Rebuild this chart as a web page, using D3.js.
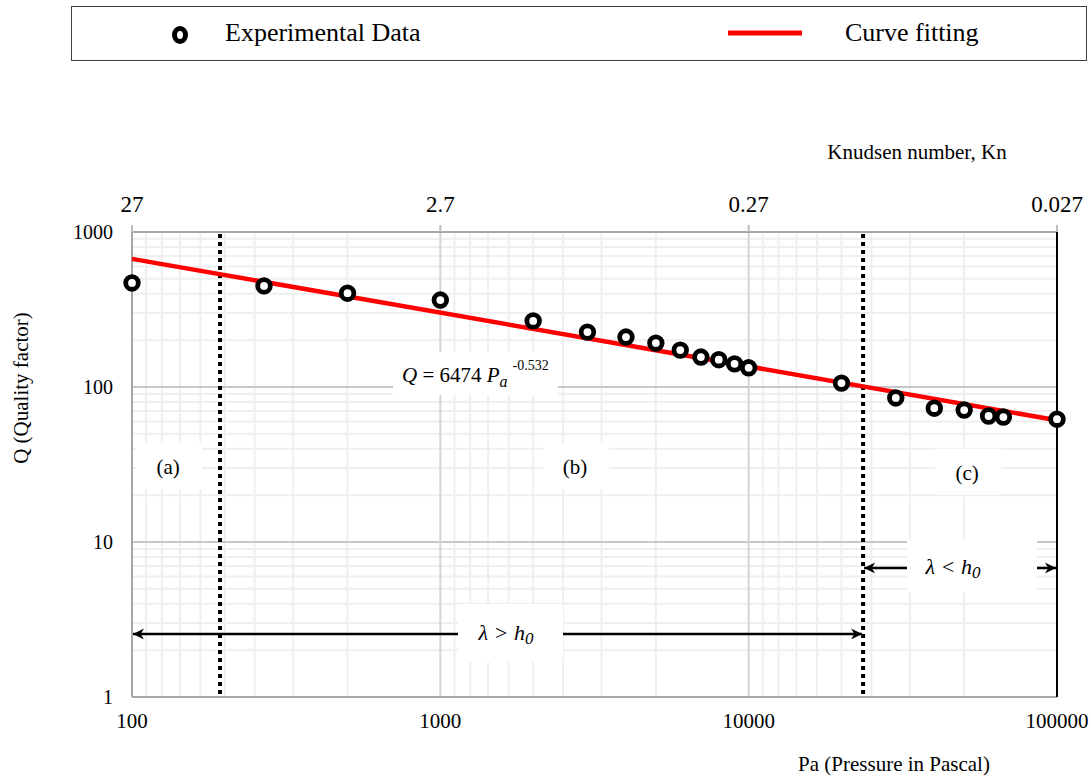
<!DOCTYPE html>
<html>
<head>
<meta charset="utf-8">
<script src="https://cdn.jsdelivr.net/npm/d3@7"></script>
<style>
  body { margin: 0; background: #fff; }
  text { font-family: "Liberation Serif", "Times New Roman", serif; fill: #000; }
</style>
</head>
<body>
<svg id="chart" width="1091" height="779"></svg>
<script>
// measured data (pressure in Pa, quality factor)
const pressure = [100, 268, 500, 1000, 2000, 3000, 4000, 5000, 6000, 7000, 8000, 9000, 10000, 20000, 30000, 40000, 50000, 60000, 67000, 100000]
const quality  = [469, 449, 403, 364, 267, 226, 210, 192, 173, 156, 150, 141, 133, 106, 85, 73, 71, 65, 64, 62]

// fitted line end points
const fitP = [100, 100000]
const fitQ = [671, 61]

const xTicks = [100, 1000, 10000, 100000]
const yTicks = [1, 10, 100, 1000]
const knTicks = [27, 2.7, 0.27, 0.027]
const knLabels = ["27", "2.7", "0.27", "0.027"]

// region boundaries (Pa) and labels
const boundaries = [193, 23500]
const regionLabels = ["(a)", "(b)", "(c)"]
const regionP = [131, 2735, 51100]
const regionQ = [30.5, 30.5, 28]

const svg = d3.select("#chart")

const x = d3.scaleLog().domain([100, 100000]).range([132, 1057])
const y = d3.scaleLog().domain([1, 1000]).range([697, 232])
const kn = d3.scaleLog().domain([27, 0.027]).range([132, 1057])

const pTop = 232, pBottom = 697, pLeft = 132, pRight = 1057

// legend
svg.append("rect").attr("x", 71.5).attr("y", 6.5).attr("width", 1015).attr("height", 54)
    .attr("fill", "#fff").attr("stroke", "#404040").attr("stroke-width", 1)
svg.append("ellipse").attr("cx", 180).attr("cy", 35).attr("rx", 5.5).attr("ry", 6.5)
    .attr("fill", "#fff").attr("stroke", "#000").attr("stroke-width", 5)
svg.append("text").attr("x", 225).attr("y", 41).attr("font-size", 26).text("Experimental Data")
svg.append("line").attr("x1", 728).attr("x2", 802).attr("y1", 33).attr("y2", 33)
    .attr("stroke", "red").attr("stroke-width", 5)
svg.append("text").attr("x", 845).attr("y", 41).attr("font-size", 26).text("Curve fitting")

// gridlines
const grid = svg.append("g")
const minorQ = []
;[1, 10, 100].forEach(b => { for (let m = 2; m <= 9; m++) minorQ.push(b * m) })
grid.selectAll(".hminor").data(minorQ).join("line")
    .attr("x1", pLeft).attr("x2", pRight)
    .attr("y1", d => y(d)).attr("y2", d => y(d))
    .attr("stroke", "#efefef").attr("stroke-width", 2)

const minorKn = []
;[0.027, 0.27, 2.7].forEach(b => { for (let m = 2; m <= 9; m++) minorKn.push(+(b * m).toFixed(4)) })
grid.selectAll(".vminor").data(minorKn).join("line")
    .attr("x1", d => kn(d)).attr("x2", d => kn(d))
    .attr("y1", pTop).attr("y2", pBottom)
    .attr("stroke", "#efefef").attr("stroke-width", 2)

grid.selectAll(".hmajor").data([10, 100]).join("line")
    .attr("x1", pLeft).attr("x2", pRight)
    .attr("y1", d => y(d)).attr("y2", d => y(d))
    .attr("stroke", "#c8c8c8").attr("stroke-width", 2)
grid.selectAll(".vmajor").data([1000, 10000]).join("line")
    .attr("x1", d => x(d)).attr("x2", d => x(d))
    .attr("y1", pTop).attr("y2", pBottom)
    .attr("stroke", "#d4d4d4").attr("stroke-width", 2)

// axis frame
svg.append("line").attr("x1", pLeft).attr("x2", pRight).attr("y1", pTop).attr("y2", pTop)
    .attr("stroke", "#a6a6a6").attr("stroke-width", 2)
svg.append("line").attr("x1", pLeft).attr("x2", pRight).attr("y1", pBottom).attr("y2", pBottom)
    .attr("stroke", "#a6a6a6").attr("stroke-width", 2)
svg.append("line").attr("x1", pLeft).attr("x2", pLeft).attr("y1", pTop).attr("y2", pBottom)
    .attr("stroke", "#a6a6a6").attr("stroke-width", 2)
svg.append("line").attr("x1", pRight).attr("x2", pRight).attr("y1", pTop).attr("y2", pBottom)
    .attr("stroke", "#000").attr("stroke-width", 2)

// top Kn ticks
svg.selectAll(".knTick").data(knTicks).join("line")
    .attr("x1", d => kn(d)).attr("x2", d => kn(d))
    .attr("y1", pTop - 7).attr("y2", pTop)
    .attr("stroke", "#bdbdbd").attr("stroke-width", 2)
svg.selectAll(".knLabel").data(knTicks).join("text")
    .attr("x", d => kn(d)).attr("y", 212)
    .attr("text-anchor", "middle").attr("font-size", 23)
    .text((d, i) => knLabels[i])
svg.append("text").attr("x", 917).attr("y", 159).attr("text-anchor", "middle")
    .attr("font-size", 21).text("Knudsen number, Kn")

// bottom and left tick labels
svg.selectAll(".xLabel").data(xTicks).join("text")
    .attr("x", d => x(d)).attr("y", 728)
    .attr("text-anchor", "middle").attr("font-size", 21)
    .text(d => d)
svg.selectAll(".yLabel").data(yTicks).join("text")
    .attr("x", 113).attr("y", d => y(d) + 7)
    .attr("text-anchor", "end").attr("font-size", 20)
    .text(d => d)
svg.append("text").attr("x", 894).attr("y", 771).attr("text-anchor", "middle")
    .attr("font-size", 21).text("Pa (Pressure in Pascal)")
svg.append("text").attr("transform", "translate(28,388) rotate(-90)")
    .attr("text-anchor", "middle").attr("font-size", 21).text("Q (Quality factor)")

// region label boxes
const regions = svg.append("g")
regionLabels.forEach((lab, i) => {
    const cx = x(regionP[i]), cy = y(regionQ[i])
    regions.append("rect").attr("x", cx - 32).attr("y", cy - 24).attr("width", 66).attr("height", 46).attr("fill", "#fff")
    regions.append("text").attr("x", cx).attr("y", cy + 7).attr("text-anchor", "middle")
        .attr("font-size", 21).text(lab)
})

// dotted boundaries
svg.selectAll(".bound").data(boundaries).join("line")
    .attr("x1", d => x(d)).attr("x2", d => x(d))
    .attr("y1", pTop + 2).attr("y2", pBottom)
    .attr("stroke", "#000").attr("stroke-width", 4)
    .attr("stroke-dasharray", "4 4")

// arrows
const defs = svg.append("defs")
defs.append("marker").attr("id", "arr").attr("viewBox", "0 0 10 10")
    .attr("refX", 10).attr("refY", 5).attr("markerWidth", 14).attr("markerHeight", 11)
    .attr("markerUnits", "userSpaceOnUse").attr("orient", "auto-start-reverse")
    .append("path").attr("d", "M0,0 L10,5 L0,10 L3,5 Z").attr("fill", "#000")

function arrow(p1, p2, q, bx, by, w, h, tx, rel) {
    svg.append("line").attr("x1", x(p1) + 1).attr("x2", x(p2) - 1)
        .attr("y1", y(q)).attr("y2", y(q))
        .attr("stroke", "#000").attr("stroke-width", 2.5)
        .attr("marker-start", "url(#arr)").attr("marker-end", "url(#arr)")
    svg.append("rect").attr("x", bx).attr("y", by).attr("width", w).attr("height", h).attr("fill", "#fff")
    const t = svg.append("text").attr("x", tx).attr("y", y(q) + 6).attr("text-anchor", "middle")
        .attr("font-size", 22).attr("font-style", "italic")
    t.append("tspan").text("λ " + rel + " h")
    t.append("tspan").attr("dy", 4).attr("font-size", 17).text("0")
}
arrow(100, boundaries[1], 2.55, 458, 604, 105, 58, 506, ">")
arrow(boundaries[1], 100000, 6.8, 907, 540, 130, 52, 953, "<")

// equation label
svg.append("rect").attr("x", 393).attr("y", 352).attr("width", 165).attr("height", 43).attr("fill", "#fff")
const eq = svg.append("text").attr("x", 402).attr("y", 382).attr("font-size", 21)
eq.append("tspan").attr("font-style", "italic").text("Q")
eq.append("tspan").text(" = 6474 ")
eq.append("tspan").attr("font-style", "italic").text("P")
eq.append("tspan").attr("font-style", "italic").attr("font-size", 16).attr("dy", 5).text("a")
eq.append("tspan").attr("font-size", 14).attr("dy", -17).attr("dx", 5).text("-0.532")

// fitted curve
const fitLine = d3.line().x(d => x(d[0])).y(d => y(d[1]))
svg.append("path").datum(fitP.map((p, i) => [p, fitQ[i]]))
    .attr("d", fitLine).attr("fill", "none").attr("stroke", "red").attr("stroke-width", 4.5)

// data markers
svg.selectAll(".pt").data(pressure).join("circle")
    .attr("cx", d => x(d))
    .attr("cy", (d, i) => y(quality[i]))
    .attr("r", 6.3)
    .attr("fill", "#fff").attr("stroke", "#000").attr("stroke-width", 4.8)
</script>
</body>
</html>
